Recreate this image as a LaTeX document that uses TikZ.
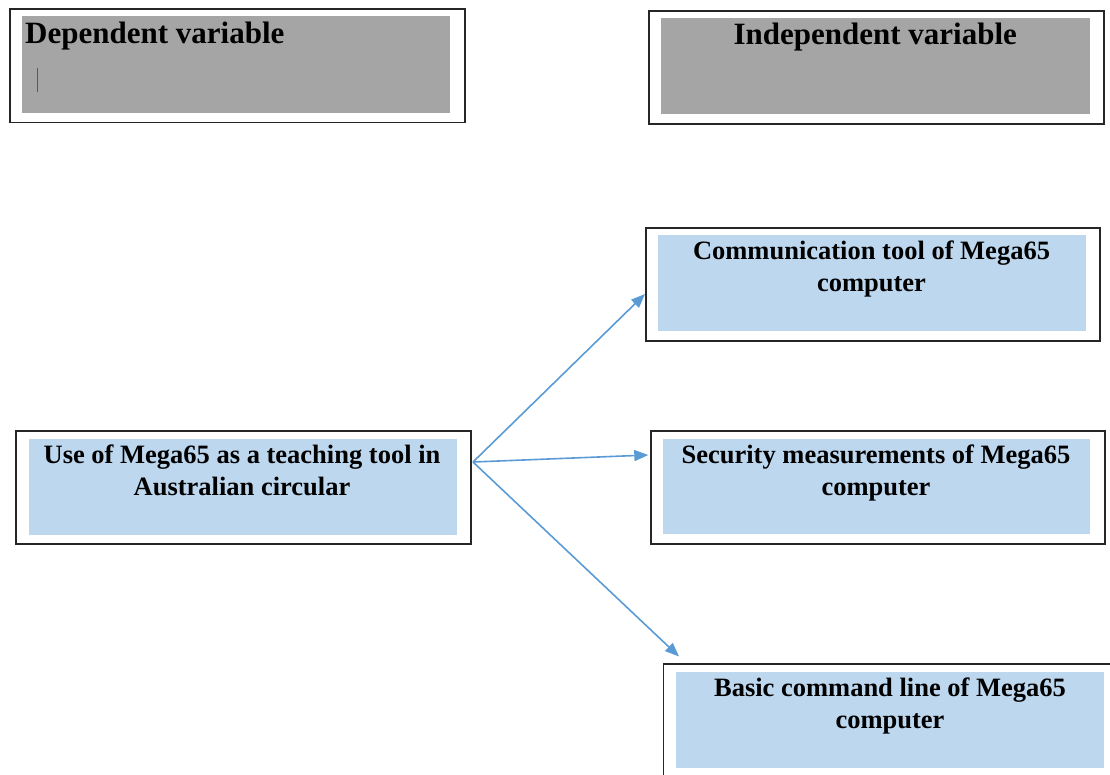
\documentclass[tikz,border=0pt]{standalone}
\usepackage{fontspec}
\setmainfont{Liberation Serif}
\usetikzlibrary{arrows.meta}
\definecolor{gfill}{HTML}{A5A5A5}
\definecolor{bfill}{HTML}{BDD7EE}
\definecolor{arrblue}{HTML}{5B9BD5}
\definecolor{edge}{HTML}{262626}
\tikzset{
  outerbox/.style={draw=edge, line width=1.6pt, fill=white, inner sep=0pt, anchor=north west},
  graybox/.style={fill=gfill, draw=none, inner sep=0pt, anchor=north west},
  bluebox/.style={fill=bfill, draw=none, inner sep=0pt, anchor=north west},
  headtext/.style={font=\fontsize{31}{36}\selectfont\bfseries, inner sep=0pt, anchor=base},
  bodytext/.style={font=\fontsize{26.5}{32}\selectfont\bfseries, inner sep=0pt, anchor=base, align=center},
  link/.style={draw=arrblue, line width=1.6pt, -{Triangle[length=14pt,width=11pt]}},
}
\begin{document}
\begin{tikzpicture}[x=1pt,y=-1pt]
\useasboundingbox (0,0) rectangle (1110,774);
\clip (0,0) rectangle (1110,774);
% Dependent variable
\node[outerbox, minimum width=455pt, minimum height=113.5pt] (depout) at (9,8.3) {};
\node[graybox, minimum width=427.5pt, minimum height=96.3pt] (depin) at (21.8,16) {};
\node[headtext, anchor=base west] (deptext) at (25,43) {Dependent variable};
\draw[draw=black!65, line width=0.9pt] (37,68) -- (37,92);
% Independent variable
\node[outerbox, minimum width=455pt, minimum height=113.3pt] (indout) at (648.3,10) {};
\node[graybox, minimum width=428.3pt, minimum height=96.7pt] (indin) at (661,17.3) {};
\node[headtext] (indtext) at (875.3,44.3) {Independent variable};
% Use of Mega65
\node[outerbox, minimum width=455pt, minimum height=113pt] (useout) at (15,430) {};
\node[bluebox, minimum width=428pt, minimum height=96pt] (usein) at (28.3,438.3) {};
\node[bodytext] (usetext) at (242,495) {Use of Mega65 as a teaching tool in\\Australian circular};
% Communication tool
\node[outerbox, minimum width=454pt, minimum height=113pt] (comout) at (645,227) {};
\node[bluebox, minimum width=428.5pt, minimum height=95.7pt] (comin) at (657.3,235) {};
\node[bodytext] (comtext) at (871.5,291) {Communication tool of Mega65\\computer};
% Security measurements
\node[outerbox, minimum width=454pt, minimum height=113pt] (secout) at (650,430) {};
\node[bluebox, minimum width=427.7pt, minimum height=95.7pt] (secin) at (662.3,438.3) {};
\node[bodytext] (sectext) at (876,495) {Security measurements of Mega65\\computer};
% Basic command line
\node[outerbox, minimum width=480pt, minimum height=120pt] (basout) at (662.7,663.3) {};
\node[bluebox, minimum width=428.3pt, minimum height=95.6pt] (basin) at (675.7,671.7) {};
\node[bodytext] (bastext) at (890,728) {Basic command line of Mega65\\computer};
% connectors
\coordinate (hub) at (473,462);
\coordinate (tipcom) at (645,294);
\coordinate (tipsec) at (648.3,455);
\coordinate (tipbas) at (679,656.5);
\draw[link] (hub) -- (tipcom);
\draw[link] (hub) -- (tipsec);
\draw[link] (hub) -- (tipbas);
\end{tikzpicture}
\end{document}
